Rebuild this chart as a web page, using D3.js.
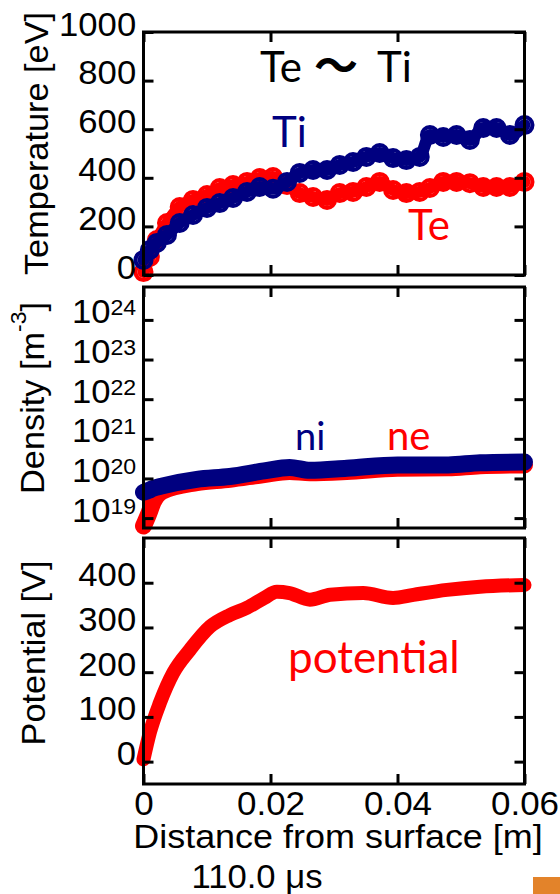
<!DOCTYPE html>
<html><head><meta charset="utf-8">
<script src="https://cdn.jsdelivr.net/npm/d3@7"></script>
<style>html,body{margin:0;padding:0;background:#fff}svg{display:block}</style>
</head><body>
<svg id="chart" width="560" height="894"></svg>
<script>
// ---------------- data ----------------
const xTicks = [0, 0.02, 0.04, 0.06];
const xTickLabels = ["0", "0.02", "0.04", "0.06"];
const tempTicks = [0, 200, 400, 600, 800, 1000];
const densTicks = [1e19, 1e20, 1e21, 1e22, 1e23, 1e24];
const potTicks = [0, 100, 200, 300, 400];

const tempDist = [0, 0.0010, 0.0021, 0.0037, 0.0057, 0.0078, 0.0100, 0.0120, 0.0141, 0.0163, 0.0183, 0.0204, 0.0226, 0.0246, 0.0267, 0.0289, 0.0309, 0.0330, 0.0351, 0.0372, 0.0393, 0.0414, 0.0435, 0.0451, 0.0472, 0.0493, 0.0514, 0.0535, 0.0556, 0.0577, 0.0600];
const Ti = [62, 103, 132, 165, 214, 247, 276, 296, 317, 342, 362, 355, 383, 420, 432, 432, 453, 465, 486, 502, 481, 473, 486, 576, 568, 576, 556, 605, 605, 576, 617];
const Te = [12, 74, 144, 214, 280, 309, 329, 358, 370, 383, 399, 403, 370, 337, 321, 309, 337, 342, 362, 383, 350, 337, 342, 358, 383, 383, 378, 362, 362, 362, 383];

const densDist = [0, 0.0008, 0.0015, 0.003, 0.0084, 0.0136, 0.019, 0.023, 0.0262, 0.032, 0.040, 0.048, 0.053, 0.060];
const ni = [4.5e19, 5.0e19, 5.6e19, 6.5e19, 9.5e19, 1.12e20, 1.55e20, 1.9e20, 1.6e20, 1.8e20, 2.2e20, 2.2e20, 2.5e20, 2.6e20];
const ne = [6.3e18, 1.26e19, 2.5e19, 4.8e19, 7.9e19, 9.5e19, 1.26e20, 1.5e20, 1.4e20, 1.5e20, 1.8e20, 1.85e20, 2.1e20, 2.2e20];

const potDist = [0, 0.001, 0.0026, 0.0047, 0.0073, 0.0105, 0.0136, 0.0163, 0.019, 0.021, 0.023, 0.0262, 0.0294, 0.0346, 0.0393, 0.0425, 0.0478, 0.053, 0.060];
const potential = [5, 65, 132, 199, 250, 302, 328, 344, 366, 380, 377, 362, 373, 377, 366, 373, 384, 391, 395];

// ---------------- setup ----------------
const RED = "#ff0000", NAVY = "#000080";
const FONT = "'Liberation Sans', Arial, Helvetica, sans-serif";
const LATO = "Lato, 'Open Sans', sans-serif";
const svg = d3.select("#chart");
const L = 143.5, R = 524.5;
const P = { temp: {top: 32, bottom: 275}, dens: {top: 287, bottom: 528}, pot: {top: 538, bottom: 784} };

const x = d3.scaleLinear().domain([0, 0.06]).range([L, R]);
const yT = d3.scaleLinear().domain([0, 1000]).range([P.temp.bottom, P.temp.top]);
const yN = d3.scaleLog().domain([Math.pow(10, 18.75), Math.pow(10, 24.83)]).range([P.dens.bottom, P.dens.top]);
const yV = d3.scaleLinear().domain([-50, 500]).range([P.pot.bottom, P.pot.top]);

function styleAxis(sel) {
  sel.select(".domain").remove();
  sel.selectAll(".tick line").attr("stroke", "#000").attr("stroke-width", 3);
  sel.selectAll(".tick text").attr("fill", "#000")
    .style("font-family", FONT).style("font-size", "33px");
}

// ---------------- data marks ----------------
const dataLayer = svg.append("g");

// temperature
const tempData = tempDist.map((d, i) => ({d, te: Te[i], ti: Ti[i]}));
[["te", RED], ["ti", NAVY]].forEach(([k, c]) => {
  const line = d3.line().x(p => x(p.d)).y(p => yT(p[k])).curve(d3.curveMonotoneX);
  dataLayer.append("path").datum(tempData).attr("d", line)
    .attr("fill", "none").attr("stroke", c).attr("stroke-width", 12)
    .attr("stroke-linecap", "round").attr("stroke-linejoin", "round");
  dataLayer.append("g").selectAll("circle").data(tempData).join("circle")
    .attr("cx", p => x(p.d)).attr("cy", p => yT(p[k])).attr("r", 8)
    .attr("fill", "none").attr("stroke", c).attr("stroke-width", 4);
});

// density
const densData = densDist.map((d, i) => ({d, ne: ne[i], ni: ni[i]}));
[["ne", RED], ["ni", NAVY]].forEach(([k, c]) => {
  const line = d3.line().x(p => x(p.d)).y(p => yN(p[k])).curve(d3.curveMonotoneX);
  dataLayer.append("path").datum(densData).attr("d", line)
    .attr("fill", "none").attr("stroke", c).attr("stroke-width", 17)
    .attr("stroke-linecap", "round").attr("stroke-linejoin", "round");
});

// potential
const potData = potDist.map((d, i) => ({d, v: potential[i]}));
dataLayer.append("path").datum(potData)
  .attr("d", d3.line().x(p => x(p.d)).y(p => yV(p.v)).curve(d3.curveMonotoneX))
  .attr("fill", "none").attr("stroke", RED).attr("stroke-width", 14)
  .attr("stroke-linecap", "round").attr("stroke-linejoin", "round");

// ---------------- frames and axes ----------------
function panel(p, y, ticks, kind, showXLabels) {
  const g = svg.append("g");
  const la = g.append("g").attr("transform", `translate(${L},0)`)
    .call(d3.axisLeft(y).tickValues(ticks).tickSize(-10).tickPadding(7)
      .tickFormat(kind === "log" ? () => "" : d3.format("d")));
  styleAxis(la);
  la.selectAll(".tick text").attr("dy", 3).attr("transform", "scale(1.05,1)");
  if (kind === "log") {
    la.selectAll(".tick text").each(function(d) {
      const t = d3.select(this).text(null);
      t.append("tspan").text("10");
      t.append("tspan").attr("dy", -8).style("font-size", "22px").text(Math.round(Math.log10(d)));
    });
  }
  const ra = g.append("g").attr("transform", `translate(${R},0)`)
    .call(d3.axisRight(y).tickValues(ticks).tickSize(-10).tickFormat(() => ""));
  styleAxis(ra);
  const ta = g.append("g").attr("transform", `translate(0,${p.top})`)
    .call(d3.axisTop(x).tickValues(xTicks).tickSize(-10).tickFormat(() => ""));
  styleAxis(ta);
  const ba = g.append("g").attr("transform", `translate(0,${p.bottom})`)
    .call(d3.axisBottom(x).tickValues(xTicks).tickSize(-10).tickPadding(8)
      .tickFormat(showXLabels ? ((d, i) => xTickLabels[i]) : () => ""));
  styleAxis(ba);
  ba.selectAll(".tick text").attr("transform", "scale(1.06,1)");
  g.append("rect").attr("x", L).attr("y", p.top).attr("width", R - L).attr("height", p.bottom - p.top)
    .attr("fill", "none").attr("stroke", "#000").attr("stroke-width", 3);
}
panel(P.temp, yT, tempTicks, "lin", false);
panel(P.dens, yN, densTicks, "log", false);
panel(P.pot, yV, potTicks, "lin", true);

// ---------------- axis titles ----------------
function arialText(tx, ty, rot, sx) {
  return svg.append("text")
    .attr("transform", `translate(${tx},${ty}) rotate(${rot}) scale(${sx},1)`)
    .attr("text-anchor", "middle").attr("fill", "#000")
    .style("font-family", FONT).style("font-size", "33px");
}
arialText(48, 143.5, -90, 1.04).text("Temperature [eV]");
const dt = arialText(44, 398, -90, 1.04);
dt.append("tspan").text("Density [m");
dt.append("tspan").attr("dy", -18).style("font-size", "22px").text("-3");
dt.append("tspan").attr("dy", 18).text("]");
arialText(45, 653, -90, 1.04).text("Potential [V]");
arialText(338, 848, 0, 1.09).text("Distance from surface [m]");
arialText(257, 888, 0, 1.05).text("110.0 μs");

// ---------------- annotations ----------------
function note(txt, tx, ty, size, color) {
  return svg.append("text").attr("x", tx).attr("y", ty).attr("fill", color)
    .style("font-family", LATO).style("font-size", size + "px").text(txt);
}
note("Te", 260, 82, 42, "#000");
svg.append("text").attr("x", 314).attr("y", 82).attr("fill", "#000")
  .style("font-family", "'Noto Sans CJK JP', sans-serif").style("font-weight", 700)
  .style("font-size", "44px").text("〜");
note("Ti", 377, 82, 42, "#000");
note("Ti", 272, 147, 42, NAVY);
note("Te", 408, 240, 42, RED);
note("ni", 295, 450, 38, NAVY);
note("ne", 387, 450, 40, RED);
note("potential", 288, 673, 44, RED);

// corner mark
svg.append("rect").attr("x", 533).attr("y", 877).attr("width", 27).attr("height", 17).attr("fill", "#e3832a");
</script>
</body></html>
